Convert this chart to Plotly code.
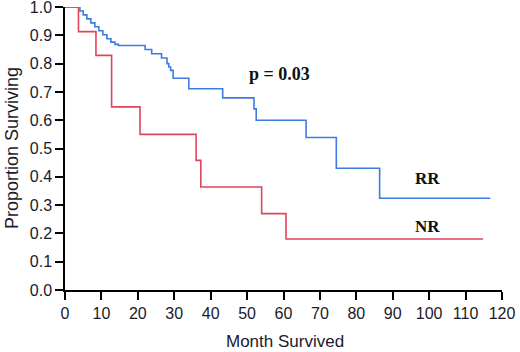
import plotly.graph_objects as go

# RR group (blue)
rr_months = [0, 4.1, 5.0, 6.0, 7.1, 8.2, 9.3, 10.4, 11.5, 12.6, 13.7, 14.7,
             22.0, 23.8, 26.5, 28.0, 28.5, 29.0, 29.7, 34.0, 43.3, 51.9, 52.5,
             66.2, 74.5, 86.4, 116.8]
rr_surv = [1.0, 0.986, 0.972, 0.958, 0.944, 0.930, 0.916, 0.902, 0.888, 0.876, 0.868, 0.864,
           0.850, 0.835, 0.820, 0.800, 0.788, 0.776, 0.748, 0.711, 0.679, 0.640, 0.600,
           0.539, 0.430, 0.324, 0.324]

# NR group (red)
nr_months = [0, 3.7, 8.5, 12.8, 20.6, 36.0, 37.3, 54.0, 60.7, 114.8]
nr_surv = [1.0, 0.913, 0.829, 0.647, 0.550, 0.458, 0.364, 0.270, 0.180, 0.180]

x_ticks = list(range(0, 121, 10))
y_ticks = [round(i / 10, 1) for i in range(0, 11)]

fig = go.Figure()
fig.add_trace(go.Scatter(x=rr_months, y=rr_surv, mode="lines", line_shape="hv",
                         line=dict(color="#3d7be3", width=1.6), showlegend=False))
fig.add_trace(go.Scatter(x=nr_months, y=nr_surv, mode="lines", line_shape="hv",
                         line=dict(color="#e0465a", width=1.6), showlegend=False))

serif = "Liberation Serif, Times New Roman, serif"
fig.add_annotation(x=59.0, y=0.762, text="<b>p = 0.03</b>", showarrow=False,
                   font=dict(family=serif, size=18, color="#111"))
fig.add_annotation(x=99.5, y=0.395, text="<b>RR</b>", showarrow=False,
                   font=dict(family=serif, size=17, color="#111"))
fig.add_annotation(x=99.5, y=0.226, text="<b>NR</b>", showarrow=False,
                   font=dict(family=serif, size=17, color="#111"))

sans = "Liberation Sans, Arial, sans-serif"
tick_font = dict(family=sans, size=16, color="#1a1a2a")

# axis titles placed as paper annotations for exact positioning
fig.add_annotation(xref="paper", yref="paper", x=-0.121, y=0.502,
                   xanchor="center", yanchor="middle", textangle=-90,
                   text="Proportion Surviving", showarrow=False,
                   font=dict(family=sans, size=18, color="#1a1a2a"))
fig.add_annotation(xref="paper", yref="paper", x=0.503, y=-0.183,
                   xanchor="center", yanchor="middle",
                   text="Month Survived", showarrow=False,
                   font=dict(family=sans, size=17, color="#1a1a2a"))

fig.update_layout(
    width=520, height=352,
    margin=dict(l=65, r=18, t=7, b=62),
    paper_bgcolor="white", plot_bgcolor="white",
    font=tick_font,
    xaxis=dict(range=[0, 120], tickvals=x_ticks, ticktext=[str(v) for v in x_ticks],
               showgrid=False, zeroline=False, showline=True, linecolor="black",
               linewidth=1.5, ticks="outside", ticklen=8, tickwidth=1.5, tickcolor="black",
               automargin=False, ticklabeloverflow="allow", tickfont=tick_font),
    yaxis=dict(range=[0, 1], tickvals=y_ticks, ticktext=[f"{v:.1f}" for v in y_ticks],
               showgrid=False, zeroline=False, showline=True, linecolor="black",
               linewidth=1.5, ticks="outside", ticklen=8, tickwidth=1.5, tickcolor="black",
               automargin=False, ticklabeloverflow="allow", tickfont=tick_font),
)

fig.write_html("out.html", config={"displayModeBar": False},
               post_script="document.body.style.margin='0';")
